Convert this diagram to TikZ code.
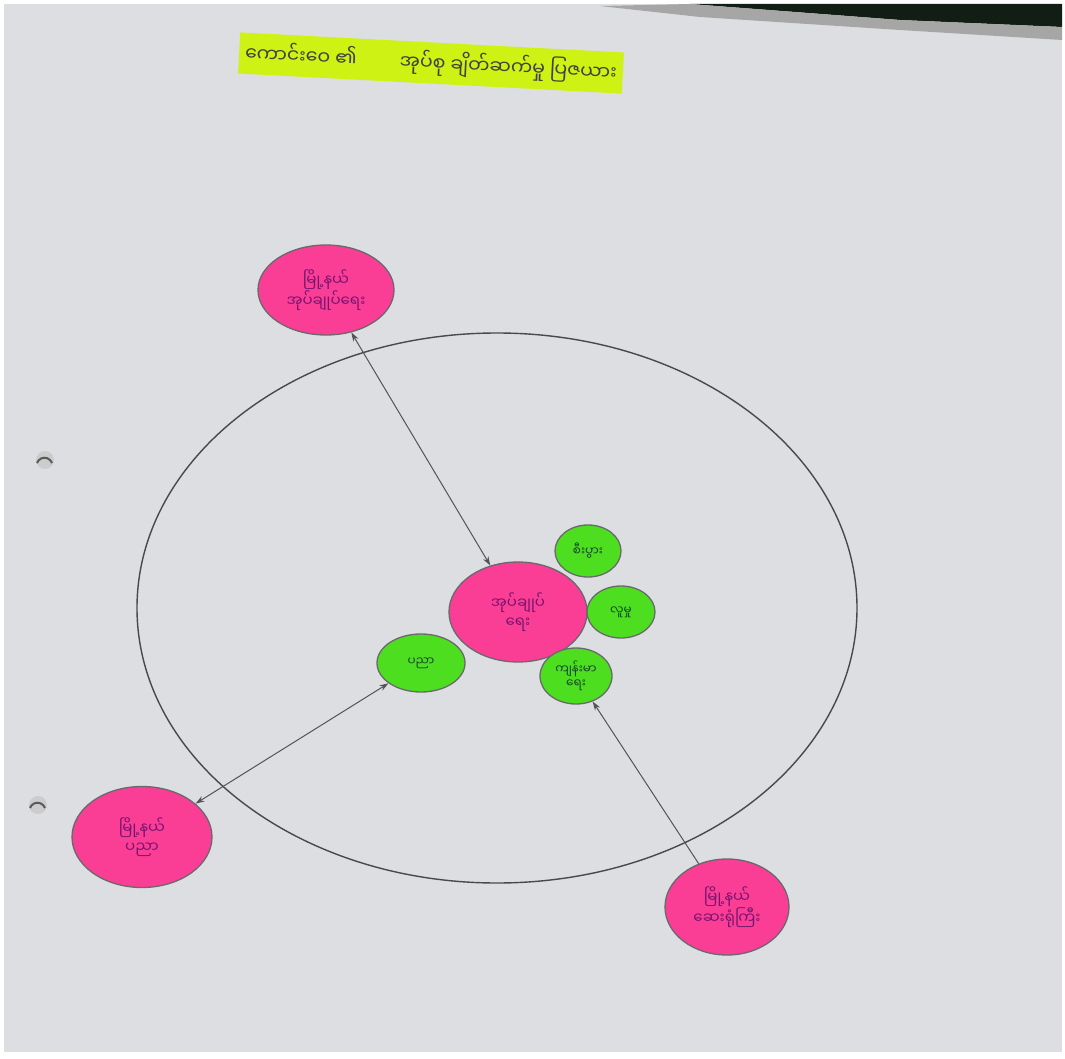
\documentclass[tikz,border=0pt]{standalone}
\usepackage{fontspec}
\newfontfamily\mya[Script=Myanmar]{Noto Sans Myanmar UI}
\usetikzlibrary{shapes.geometric,arrows.meta}
\definecolor{paper}{RGB}{221,222,225}
\definecolor{pinkfill}{RGB}{250,62,150}
\definecolor{greenfill}{RGB}{78,222,32}
\definecolor{rimgray}{RGB}{105,105,108}
\definecolor{inkpurple}{RGB}{120,20,110}
\definecolor{inkgreen}{RGB}{20,70,40}
\definecolor{hilite}{RGB}{205,242,20}
\definecolor{darkbg}{RGB}{18,30,20}
\tikzset{
  pinkc/.style={ellipse,draw=rimgray,line width=1.3pt,fill=pinkfill,inner sep=0pt,align=center,text=inkpurple,font=\mya\fontsize{15}{19}\selectfont},
  greenc/.style={ellipse,draw=rimgray,line width=1.3pt,fill=greenfill,inner sep=0pt,align=center,text=inkgreen,font=\mya\fontsize{12}{14}\selectfont},
  link/.style={draw=rimgray!80!black,line width=1pt},
  tip/.tip={Stealth[length=9pt,width=6pt]}
}
\begin{document}
\begin{tikzpicture}[x=1pt,y=-1pt]
\useasboundingbox (0,0) rectangle (1065,1059);
\fill[white] (0,0) rectangle (1065,1059);
\fill[paper] (4,4) rectangle (1062,1052);
% dark area beyond the paper edge, top right
\fill[darkbg] (690,4) -- (1062,4) -- (1062,27) -- (900,20) -- cycle;
\fill[gray!70] (600,6) -- (690,4) -- (900,20) -- (1062,27) -- (1062,40) -- (900,30) -- (700,17) -- cycle;
% punch holes
\fill[gray!40] (45,460) circle (9);
\draw[black!65,line width=2pt] (37,463) arc (200:340:8);
\fill[gray!40] (38,805) circle (9);
\draw[black!65,line width=2pt] (30,808) arc (200:340:8);
% title
\node[fill=hilite,rotate=-3,inner xsep=6pt,inner ysep=8pt,text=black!75,font=\mya\fontsize{19}{22}\selectfont] (title) at (431,63) {ကောင်းဝေ ၏ \quad\quad အုပ်စု ချိတ်ဆက်မှု ပြဇယား};
% big circle
\draw[rimgray!70!black,line width=1.4pt] (497,608) ellipse [x radius=360,y radius=275];
% pink nodes
\node[pinkc,minimum width=136pt,minimum height=90pt] (tl) at (326,290) {မြို့နယ်\\အုပ်ချုပ်ရေး};
\node[pinkc,minimum width=138pt,minimum height=100pt] (ctr) at (518,612) {အုပ်ချုပ်\\ရေး};
\node[pinkc,minimum width=140pt,minimum height=101pt] (bl) at (142,837) {မြို့နယ်\\ပညာ};
\node[pinkc,minimum width=124pt,minimum height=96pt] (br) at (727,907) {မြို့နယ်\\ဆေးရုံကြီး};
% green nodes
\node[greenc,minimum width=88pt,minimum height=58pt] (gl) at (421,663) {ပညာ};
\node[greenc,minimum width=66pt,minimum height=52pt] (gt) at (588,551) {စီးပွား};
\node[greenc,minimum width=68pt,minimum height=52pt] (gm) at (621,612) {လူမှု};
\node[greenc,minimum width=72pt,minimum height=56pt] (gb) at (576,676) {ကျန်းမာ\\ရေး};
% connectors
\draw[link,tip-tip] (tl) -- (ctr);
\draw[link,tip-tip] (bl) -- (gl);
\draw[link,-tip] (br) -- (gb);
\end{tikzpicture}
\end{document}
